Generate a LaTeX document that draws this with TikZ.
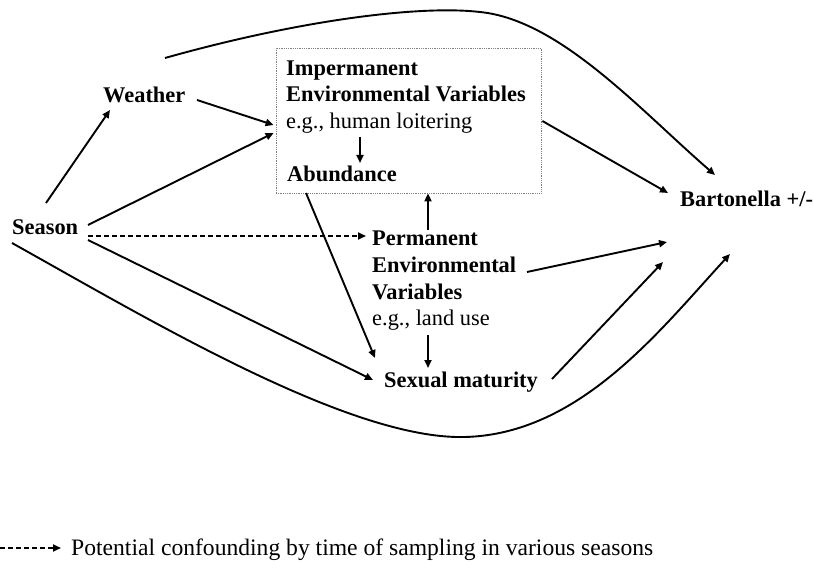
\documentclass[tikz,border=0pt]{standalone}
\usepackage{fontspec}
\setmainfont{Liberation Serif}
\usetikzlibrary{arrows.meta}
\begin{document}
\begin{tikzpicture}[x=1pt,y=-1pt,
  lbl/.style={font=\fontsize{22.4}{26}\selectfont\bfseries, inner sep=0pt, anchor=base west},
  reg/.style={font=\fontsize{22.4}{26}\selectfont, inner sep=0pt, anchor=base west},
  arr/.style={line width=1.9pt, -{Triangle[length=8pt,width=7pt]}},
  dsh/.style={arr, dash pattern=on 5pt off 3pt}]
\useasboundingbox (0,0) rectangle (813,569);
% nodes
\node[lbl] (season) at (12,235) {Season};
\node[lbl] (weather) at (103,103) {Weather};
\node[draw=gray, densely dotted, line width=0.8pt, minimum width=265pt, minimum height=145pt, inner sep=0pt] (box) at (408.5,120.5) {};
\node[lbl] (imp1) at (286,76) {Impermanent};
\node[lbl] (imp2) at (286,102) {Environmental Variables};
\node[reg] (imp3) at (286,129) {e.g., human loitering};
\node[lbl] (abund) at (287,182) {Abundance};
\node[lbl] (bart) at (680,207) {Bartonella +/-};
\node[lbl] (perm1) at (372,246) {Permanent};
\node[lbl] (perm2) at (372,272) {Environmental};
\node[lbl] (perm3) at (372,299) {Variables};
\node[reg] (perm4) at (372,325) {e.g., land use};
\node[lbl] (sex) at (384,387) {Sexual maturity};
\node[reg, font=\fontsize{23.6}{26}\selectfont] (legend) at (71,555) {Potential confounding by time of sampling in various seasons};
\coordinate (legstart) at (0,548);
% connectors
\draw[arr] ([shift={(34,-32)}]season.base west) -- ([shift={(7,7)}]weather.base west);
\draw[arr] ([shift={(94,-3)}]weather.base west) -- ([shift={(-2,4.5)}]box.west);
\draw[arr] ([shift={(76,-10)}]season.base west) -- ([shift={(-2,12.5)}]box.west);
\draw[dsh] ([shift={(76,1)}]season.base west) -- ([shift={(-6,-10)}]perm1.base west);
\draw[arr] ([shift={(1,0.5)}]box.east) -- ([shift={(-12,-14)}]bart.base west);
\draw[arr] ([shift={(155,0)}]perm2.base west) -- ([shift={(-13,35)}]bart.base west);
\draw[arr] ([shift={(168,-8)}]sex.base west) -- ([shift={(-17,55)}]bart.base west);
\draw[arr] ([shift={(56,-16)}]perm1.base west) -- ([shift={(19.5,0)}]box.south);
\draw[arr] ([shift={(56,10)}]perm4.base west) -- ([shift={(44,-19)}]sex.base west);
\draw[arr] ([shift={(19,11)}]abund.base west) -- ([shift={(-9,-29)}]sex.base west);
\draw[arr] ([shift={(76,5)}]season.base west) -- ([shift={(-11,-7)}]sex.base west);
\draw[arr] ([shift={(74,8)}]imp3.base west) -- ([shift={(73,-19)}]abund.base west);
\draw[arr] ([shift={(62,-45)}]weather.base west) .. controls (300,20) and (420,5) .. (480,12)
  .. controls (560,20) and (640,110) .. ([shift={(35,-32)}]bart.base west);
\draw[arr] ([shift={(0,8)}]season.base west) .. controls (150,320) and (350,440) .. (465,437)
  .. controls (580,434) and (660,330) .. ([shift={(50,47)}]bart.base west);
\draw[dsh] (legstart) -- ([xshift=-10pt]legend.west |- legstart);
\end{tikzpicture}
\end{document}
